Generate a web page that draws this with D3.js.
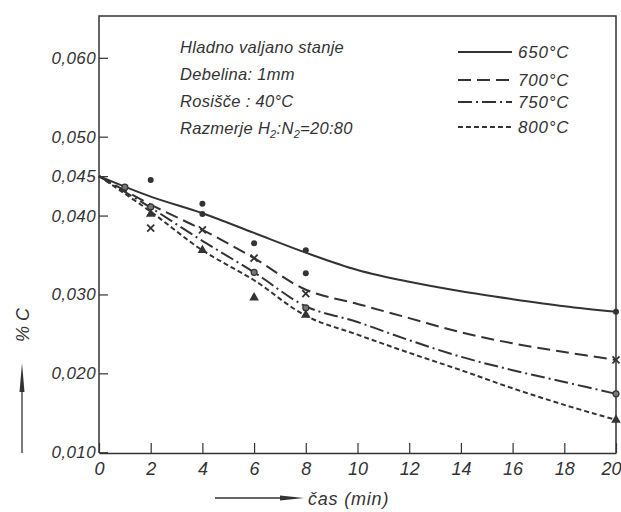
<!DOCTYPE html>
<html>
<head>
<meta charset="utf-8">
<script src="https://cdn.jsdelivr.net/npm/d3@7"></script>
<style>
  body { margin: 0; background: #fff; }
  svg { display: block; }
  text { font-family: "Liberation Sans", Arial, sans-serif; font-style: italic; fill: #333; }
</style>
</head>
<body>
<svg width="621" height="512"></svg>
<script>
// čas (min) na x osi
const times = [0, 2, 4, 6, 8, 10, 12, 14, 16, 18, 20];

// krivulje % C za vsako temperaturo
const c650 = [0.0450, 0.0424, 0.0403, 0.0378, 0.0353, 0.0331, 0.0316, 0.0304, 0.0294, 0.0285, 0.0278];
const c700 = [0.0450, 0.0414, 0.0382, 0.0346, 0.0306, 0.0288, 0.0270, 0.0252, 0.0238, 0.0227, 0.0217];
const c750 = [0.0450, 0.0410, 0.0368, 0.0328, 0.0285, 0.0265, 0.0242, 0.0221, 0.0204, 0.0189, 0.0174];
const c800 = [0.0450, 0.0405, 0.0356, 0.0318, 0.0273, 0.0249, 0.0226, 0.0204, 0.0181, 0.0160, 0.0141];

// izmerjene točke [čas, % C]
const pts650 = [[2, 0.0445], [4, 0.0415], [4, 0.0402], [6, 0.0365], [8, 0.0356], [8, 0.0327], [20, 0.0278]];
const pts700 = [[2, 0.0384], [4, 0.0382], [6, 0.0346], [8, 0.0301], [20, 0.0217]];
const pts750 = [[1, 0.0436], [2, 0.0411], [6, 0.0328], [8, 0.0283], [20, 0.0174]];
const pts800 = [[2, 0.0402], [4, 0.0356], [6, 0.0296], [8, 0.0274], [20, 0.0141]];

const yTicks = [0.010, 0.020, 0.030, 0.040, 0.045, 0.050, 0.060];
const xTicks = [0, 2, 4, 6, 8, 10, 12, 14, 16, 18, 20];
const legendLabels = ["650°C", "700°C", "750°C", "800°C"];
const infoLines = ["Hladno  valjano stanje", "Debelina: 1mm", "Rosišče : 40°C"];

const ink = "#333";
const svg = d3.select("svg");

// skale
const x = d3.scaleLinear().domain([0, 20]).range([99, 616]);
const y = d3.scaleLinear().domain([0.0099, 0.0653]).range([453, 16]);

const fmt = d => d3.format(".3f")(d).replace(".", ",");

// okvir (levo, zgoraj, desno)
svg.append("path")
  .attr("d", `M${x(0)},${y(0.0099)}V${y(0.0653)}H${x(20)}V${y(0.0099)}`)
  .attr("fill", "none").attr("stroke", ink).attr("stroke-width", 1.5);

// x os s kljukicami navzgor
const xAxis = svg.append("g")
  .attr("transform", `translate(0,${y(0.0099)})`)
  .call(d3.axisBottom(x).tickValues(xTicks).tickSizeInner(-10).tickSizeOuter(0).tickPadding(9));
xAxis.select(".domain").attr("stroke", ink).attr("stroke-width", 1.5);
xAxis.selectAll(".tick line").attr("stroke", ink).attr("stroke-width", 1.2);
xAxis.selectAll(".tick text").attr("font-size", 18).attr("fill", ink)
  .attr("font-family", "Liberation Sans").attr("font-style", "italic")
  .attr("dx", d => d === 20 ? -5 : 0);

// y os s kljukicami navznoter
const yAxis = svg.append("g")
  .attr("transform", `translate(${x(0)},0)`)
  .call(d3.axisLeft(y).tickValues(yTicks).tickFormat(fmt).tickSizeInner(-9).tickSizeOuter(0).tickPadding(3));
yAxis.select(".domain").remove();
yAxis.selectAll(".tick line").attr("stroke", ink).attr("stroke-width", 1.2);
yAxis.selectAll(".tick text").attr("font-size", 17).attr("fill", ink)
  .attr("font-family", "Liberation Sans").attr("font-style", "italic").attr("letter-spacing", 0.4);

// krivulje
const series = [
  { vals: c650, dash: null },
  { vals: c700, dash: "13,6" },
  { vals: c750, dash: "14,4,2,4" },
  { vals: c800, dash: "5,3" }
];

const line = d3.line()
  .x((d, i) => x(times[i]))
  .y(d => y(d))
  .curve(d3.curveCatmullRom.alpha(0.5));

series.forEach(s => {
  svg.append("path")
    .datum(s.vals)
    .attr("d", line)
    .attr("fill", "none")
    .attr("stroke", ink)
    .attr("stroke-width", 2)
    .attr("stroke-dasharray", s.dash);
});

// točke
svg.selectAll(".p650").data(pts650).join("circle")
  .attr("cx", d => x(d[0])).attr("cy", d => y(d[1])).attr("r", 3).attr("fill", ink);

svg.selectAll(".p700").data(pts700).join("path")
  .attr("transform", d => `translate(${x(d[0])},${y(d[1])})`)
  .attr("d", "M-3.5,-3.5L3.5,3.5M-3.5,3.5L3.5,-3.5")
  .attr("stroke", ink).attr("stroke-width", 1.8);

svg.selectAll(".p750").data(pts750).join("circle")
  .attr("cx", d => x(d[0])).attr("cy", d => y(d[1])).attr("r", 3)
  .attr("fill", "#777").attr("stroke", ink).attr("stroke-width", 1.2);

svg.selectAll(".p800").data(pts800).join("path")
  .attr("transform", d => `translate(${x(d[0])},${y(d[1])})`)
  .attr("d", d3.symbol(d3.symbolTriangle, 40))
  .attr("fill", ink);

// besedilo z opisom
const info = svg.append("g");
infoLines.forEach((t, i) => {
  info.append("text").attr("x", 180).attr("y", 53 + i * 27)
    .attr("font-size", 16.5).attr("letter-spacing", 0.3).text(t);
});
const last = info.append("text").attr("x", 180).attr("y", 134)
  .attr("font-size", 16.5).attr("letter-spacing", 0.3);
last.append("tspan").text("Razmerje H");
last.append("tspan").attr("dy", 4).attr("font-size", 11).text("2");
last.append("tspan").attr("dy", -4).text(":N");
last.append("tspan").attr("dy", 4).attr("font-size", 11).text("2");
last.append("tspan").attr("dy", -4).text("=20:80");

// legenda
const legY = [52, 80, 102, 127];
series.forEach((s, i) => {
  svg.append("line")
    .attr("x1", 458).attr("x2", 512).attr("y1", legY[i]).attr("y2", legY[i])
    .attr("stroke", ink).attr("stroke-width", 2).attr("stroke-dasharray", s.dash);
  svg.append("text").attr("x", 518).attr("y", legY[i] + 6)
    .attr("font-size", 17).attr("letter-spacing", 0.8).text(legendLabels[i]);
});

// oznaka y osi s puščico
svg.append("text")
  .attr("transform", "translate(29,325) rotate(-90)")
  .attr("text-anchor", "middle").attr("font-size", 18).text("% C");
svg.append("line").attr("x1", 22).attr("x2", 22).attr("y1", 453).attr("y2", 375)
  .attr("stroke", ink).attr("stroke-width", 1.3);
svg.append("path").attr("d", "M22,363L24.5,392L19.5,392Z").attr("fill", ink);

// oznaka x osi s puščico
svg.append("line").attr("x1", 215).attr("x2", 290).attr("y1", 498).attr("y2", 498)
  .attr("stroke", ink).attr("stroke-width", 1.3);
svg.append("path").attr("d", "M304,498L280,495.5L280,500.5Z").attr("fill", ink);
svg.append("text").attr("x", 308).attr("y", 505)
  .attr("font-size", 18).attr("letter-spacing", 0.8).text("čas  (min)");
</script>
</body>
</html>
